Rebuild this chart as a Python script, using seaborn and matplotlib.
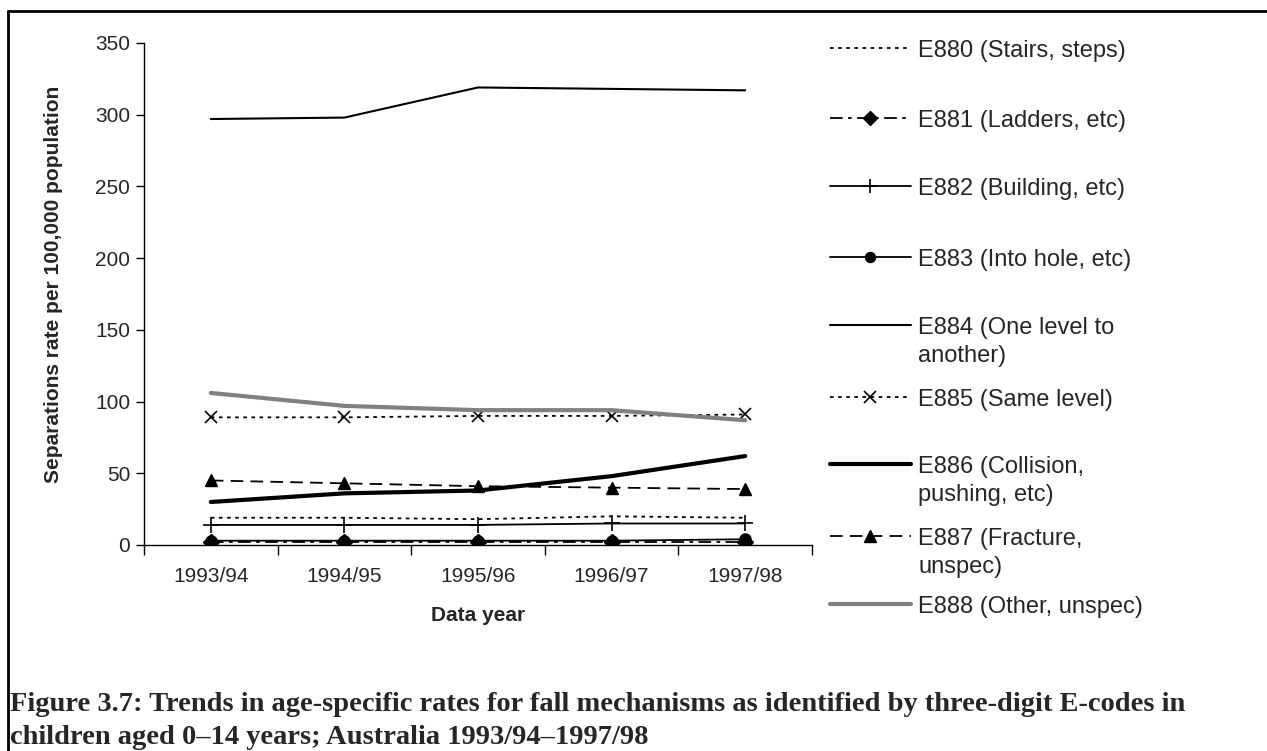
import matplotlib
matplotlib.use("Agg")
import matplotlib.pyplot as plt
import seaborn as sns
import numpy as np
import pandas as pd
from matplotlib.lines import Line2D

years = ["1993/94", "1994/95", "1995/96", "1996/97", "1997/98"]

e880 = [19, 19, 18, 20, 19]
e881 = [2, 2, 2, 2, 2]
e882 = [14, 14, 14, 15, 15]
e883 = [3, 3, 3, 3, 4]
e884 = [297, 298, 319, 318, 317]
e885 = [89, 89, 90, 90, 91]
e886 = [30, 36, 38, 48, 62]
e887 = [45, 43, 41, 40, 39]
e888 = [106, 97, 94, 94, 87]

labels = ["E880 (Stairs, steps)", "E881 (Ladders, etc)", "E882 (Building, etc)",
          "E883 (Into hole, etc)", "E884 (One level to\nanother)", "E885 (Same level)",
          "E886 (Collision,\npushing, etc)", "E887 (Fracture,\nunspec)", "E888 (Other, unspec)"]
values = [e880, e881, e882, e883, e884, e885, e886, e887, e888]

styles = [
    dict(color="black", lw=1.3, ls=(0, (2, 2.5)), marker=None),
    dict(color="black", lw=1.3, ls=(0, (7, 3, 2, 3)), marker="D", ms=8),
    dict(color="black", lw=1.3, ls="-", marker="+", ms=11, mew=1.2),
    dict(color="black", lw=1.3, ls="-", marker="o", ms=8),
    dict(color="black", lw=1.5, ls="-", marker=None),
    dict(color="black", lw=1.3, ls=(0, (2, 2.5)), marker="x", ms=9, mew=1.2),
    dict(color="black", lw=3.0, ls="-", marker=None),
    dict(color="black", lw=1.3, ls=(0, (7, 4)), marker="^", ms=9),
    dict(color="#808080", lw=3.0, ls="-", marker=None),
]

rows = []
for lab, vals in zip(labels, values):
    for i, (yr, v) in enumerate(zip(years, vals)):
        rows.append(dict(series=lab, idx=i, year=yr, rate=v))
df = pd.DataFrame(rows)

sns.set_style("white")
plt.rcParams["font.family"] = ["Liberation Sans", "DejaVu Sans"]

fig = plt.figure(figsize=(12.67, 7.51), dpi=100)
W, H = 1267, 751
ax = fig.add_axes([144 / W, 1 - 545 / H, (812 - 144) / W, (545 - 43) / H])

for lab, st in zip(labels, styles):
    sub = df[df.series == lab]
    kw = dict(color=st["color"], linewidth=st["lw"], linestyle=st["ls"])
    if st["marker"]:
        kw.update(marker=st["marker"], markersize=st.get("ms", 8),
                  markeredgewidth=st.get("mew", 1.0),
                  markerfacecolor=st["color"], markeredgecolor=st["color"])
    sns.lineplot(data=sub, x="idx", y="rate", ax=ax, legend=False, **kw)

ax.set_xlim(-0.5, 4.5)
ax.set_ylim(0, 350)
ax.set_yticks(np.arange(0, 351, 50))
ax.set_xticks(np.arange(-0.5, 4.6, 1.0))
ax.set_xticklabels([])
ax.set_xticks(range(len(years)), minor=True)
ax.set_xticklabels(years, minor=True)
ax.tick_params(axis="x", which="minor", length=0, pad=16, labelsize=15)
ax.tick_params(axis="x", which="major", length=7, width=1, direction="out", color="black")
ax.tick_params(axis="y", length=6, width=1, direction="out", color="black", labelsize=15, pad=4)
ax.tick_params(left=True, bottom=True)
for s in ["top", "right"]:
    ax.spines[s].set_visible(False)
for s in ["left", "bottom"]:
    ax.spines[s].set_color("black")
    ax.spines[s].set_linewidth(1.0)
ax.set_xlabel("Data year", fontsize=15, fontweight="bold")
ax.set_ylabel("Separations rate per 100,000 population", fontsize=15, fontweight="bold")
ax.yaxis.set_label_coords((63 - 144) / 668, (545 - 284) / 502)
ax.xaxis.set_label_coords(0.5, (545 - 606) / 502)

# legend drawn outside the plot
lax = fig.add_axes([0, 0, 1, 1])
lax.set_xlim(0, W)
lax.set_ylim(H, 0)
lax.axis("off")
leg_y = [48, 118, 186, 257, 325, 397, 464, 536, 604]
for lab, st, yy in zip(labels, styles, leg_y):
    lax.add_line(Line2D([830, 911], [yy, yy], color=st["color"], linewidth=st["lw"],
                        linestyle=st["ls"]))
    if st["marker"]:
        lax.add_line(Line2D([870], [yy], marker=st["marker"], markersize=st.get("ms", 8) * 0.9,
                            markeredgewidth=st.get("mew", 1.0), color=st["color"],
                            markerfacecolor=st["color"], linestyle="none"))
    for k, part in enumerate(lab.split("\n")):
        lax.text(918, yy + 9 + 28 * k, part, fontsize=17, va="baseline", ha="left")

# frame lines
lax.add_line(Line2D([8, W + 5], [11, 11], color="black", linewidth=2))
lax.add_line(Line2D([8, 8], [11, H + 5], color="black", linewidth=2))

cap_lines = ["Figure 3.7: Trends in age-specific rates for fall mechanisms as identified by three-digit E-codes in",
             "children aged 0\u201314 years; Australia 1993/94\u20131997/98"]
for k, part in enumerate(cap_lines):
    lax.text(10, 711 + 33 * k, part, fontsize=20.5, fontweight="bold", va="baseline", ha="left",
             family=["Liberation Serif", "DejaVu Serif"])

fig.savefig("out.png", dpi=100)
